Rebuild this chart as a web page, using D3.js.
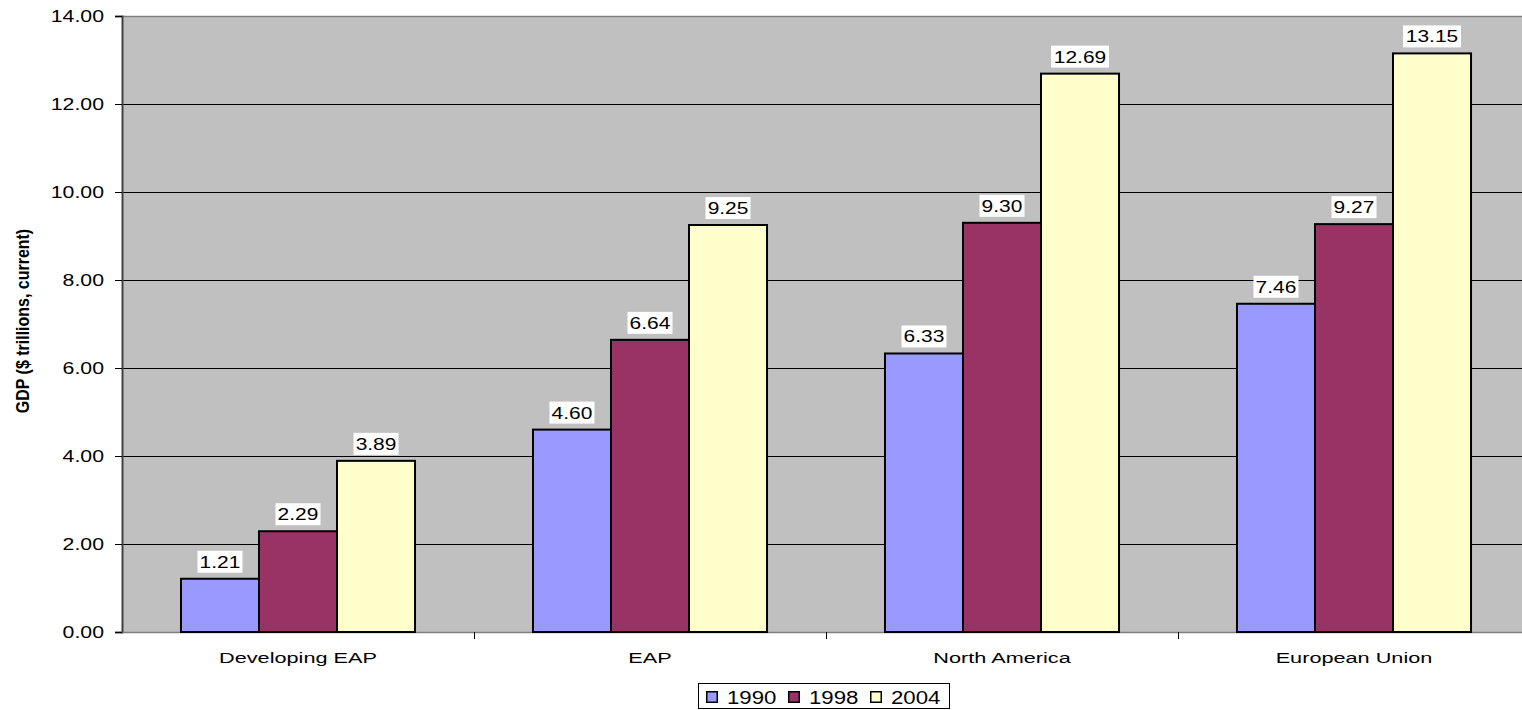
<!DOCTYPE html>
<html>
<head>
<meta charset="utf-8">
<script src="https://d3js.org/d3.v7.min.js"></script>
<style>
  html, body { margin: 0; padding: 0; background: #fff; }
  svg { display: block; font-family: "Liberation Sans", Arial, sans-serif; }
</style>
</head>
<body>
<div id="chart"></div>
<script>
// GDP by region, three snapshot years
const regions = ["Developing EAP", "EAP", "North America", "European Union"];
const years = ["1990", "1998", "2004"];
const gdp1990 = [1.21, 4.60, 6.33, 7.46];
const gdp1998 = [2.29, 6.64, 9.30, 9.27];
const gdp2004 = [3.89, 9.25, 12.69, 13.15];
const yTicks = [0, 2, 4, 6, 8, 10, 12, 14];
const seriesColors = ["#9999FF", "#993366", "#FFFFCC"];

const seriesValues = [gdp1990, gdp1998, gdp2004];

const width = 1522, height = 710;
const plot = { left: 122, right: 1530, top: 16, bottom: 632 };
const FONT = "'Liberation Sans', Arial, sans-serif";

const svg = d3.select("#chart").append("svg")
  .attr("width", width).attr("height", height);

const x0 = d3.scaleBand().domain(regions).range([plot.left, plot.right]).paddingInner(0).paddingOuter(0);
const x1 = d3.scaleBand().domain(years).range([0, x0.bandwidth()]).paddingInner(0).paddingOuter(0.756);
const y = d3.scaleLinear().domain([0, 14]).range([plot.bottom, plot.top]);

// wide text: stretch glyphs horizontally around the text's own anchor x
function widen(sel, k) {
  sel.each(function () {
    const t = d3.select(this);
    const x = +t.attr("x") || 0;
    t.attr("x", 0).attr("transform", `translate(${x},0) scale(${k},1)`);
  });
}

// plot background
svg.append("rect")
  .attr("x", plot.left).attr("y", plot.top)
  .attr("width", plot.right - plot.left).attr("height", plot.bottom - plot.top)
  .attr("fill", "#C0C0C0");
svg.append("line")
  .attr("x1", plot.left).attr("x2", plot.right)
  .attr("y1", plot.top + 0.5).attr("y2", plot.top + 0.5)
  .attr("stroke", "#808080").attr("stroke-width", 1.5);

// gridlines
svg.append("g").selectAll("line")
  .data(yTicks.filter(t => t > 0 && t < 14))
  .join("line")
  .attr("x1", plot.left).attr("x2", plot.right)
  .attr("y1", d => Math.round(y(d)) + 0.5).attr("y2", d => Math.round(y(d)) + 0.5)
  .attr("stroke", "#000").attr("stroke-width", 1);

// y axis
const yAxis = svg.append("g")
  .attr("transform", `translate(${plot.left},0)`)
  .call(d3.axisLeft(y).tickValues(yTicks).tickFormat(d3.format(".2f")).tickSize(7).tickPadding(11));
yAxis.select(".domain").attr("stroke", "#404040").attr("stroke-width", 2);
yAxis.selectAll(".tick line").attr("stroke", "#000");
yAxis.selectAll(".tick text").attr("font-size", 16).attr("fill", "#000")
  .attr("font-family", FONT).call(widen, 1.33);

// x axis
const xAxis = svg.append("g")
  .attr("transform", `translate(0,${plot.bottom})`)
  .call(d3.axisBottom(x0).tickSize(0).tickPadding(20));
xAxis.select(".domain").attr("stroke", "#808080").attr("stroke-width", 1.5);
xAxis.selectAll(".tick text").attr("font-size", 15.5).attr("fill", "#000")
  .attr("font-family", FONT).call(widen, 1.4);
// category separator ticks
svg.append("g").selectAll("line")
  .data(regions.slice(1))
  .join("line")
  .attr("x1", d => x0(d) + 0.5).attr("x2", d => x0(d) + 0.5)
  .attr("y1", plot.bottom).attr("y2", plot.bottom + 7)
  .attr("stroke", "#000");

// bars
const groups = svg.append("g").selectAll("g")
  .data(regions)
  .join("g")
  .attr("transform", d => `translate(${x0(d)},0)`);

const cells = (d, i) => years.map((yr, s) => ({ yr, s, v: seriesValues[s][i] }));

groups.selectAll("rect")
  .data(cells)
  .join("rect")
  .attr("x", d => x1(d.yr))
  .attr("width", x1.bandwidth())
  .attr("y", d => y(d.v))
  .attr("height", d => y(0) - y(d.v))
  .attr("fill", d => seriesColors[d.s])
  .attr("stroke", "#000").attr("stroke-width", 2);

// value labels on white boxes
const labels = groups.selectAll("g.lbl")
  .data(cells)
  .join("g").attr("class", "lbl")
  .attr("transform", d => `translate(${x1(d.yr) + x1.bandwidth() / 2},${y(d.v)})`);
labels.append("rect")
  .attr("x", d => -(d.v >= 10 ? 29 : 22.5)).attr("width", d => d.v >= 10 ? 58 : 45)
  .attr("y", -28).attr("height", 22)
  .attr("fill", "#fff");
labels.append("text")
  .attr("text-anchor", "middle").attr("font-size", 16.5).attr("y", -11)
  .attr("transform", "scale(1.27,1)")
  .text(d => d.v.toFixed(2));

// y axis title
svg.append("text")
  .attr("transform", `translate(29,${321}) rotate(-90) scale(1,1.1)`)
  .attr("text-anchor", "middle").attr("font-size", 16).attr("font-weight", "bold")
  .text("GDP ($ trillions, current)");

// legend
const legend = svg.append("g").attr("transform", "translate(698,683)");
legend.append("rect").attr("x", 0.5).attr("y", 0.5).attr("width", 251).attr("height", 25)
  .attr("fill", "#fff").attr("stroke", "#000");
years.forEach((yr, s) => {
  const g = legend.append("g").attr("transform", `translate(${8 + s * 82},0)`);
  g.append("rect").attr("x", 0.75).attr("y", 8.75).attr("width", 10.5).attr("height", 10.5)
    .attr("fill", seriesColors[s]).attr("stroke", "#000").attr("stroke-width", 1.5);
  g.append("text").attr("font-size", 19).attr("y", 21.5)
    .attr("transform", "translate(21,0) scale(1.17,1)").text(yr);
});
</script>
</body>
</html>
